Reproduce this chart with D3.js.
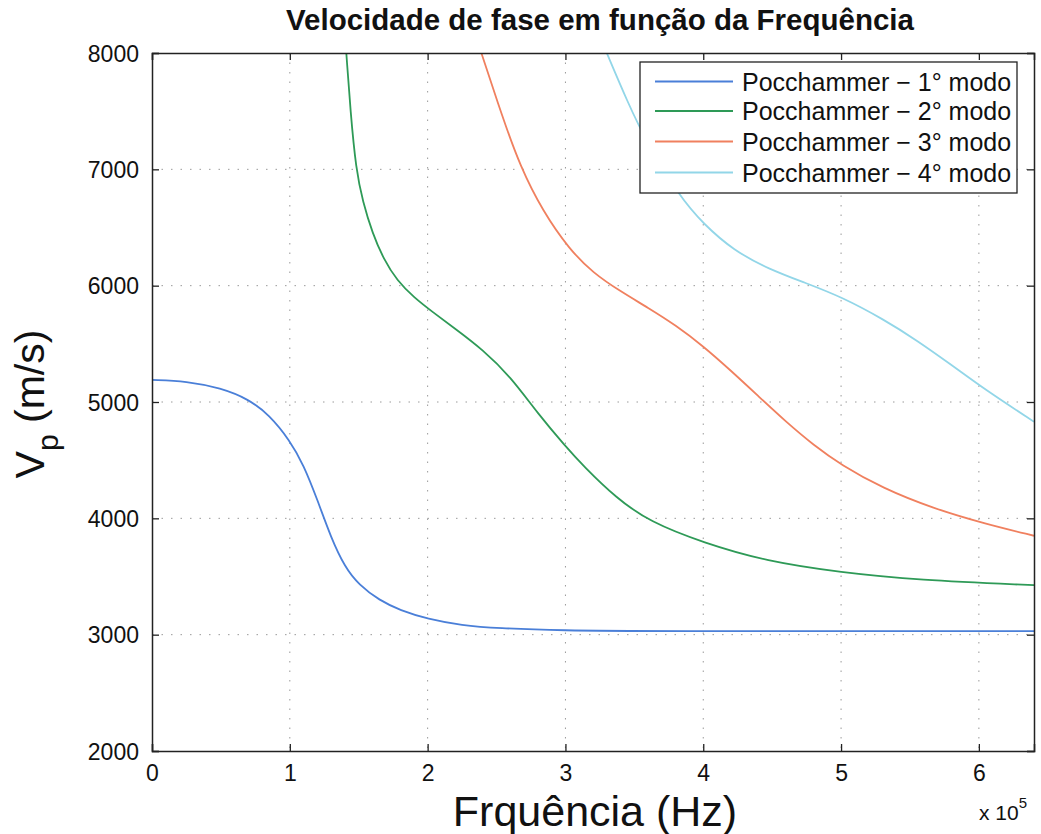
<!DOCTYPE html>
<html>
<head>
<meta charset="utf-8">
<script src="https://cdn.jsdelivr.net/npm/d3@7"></script>
<style>
  body { margin: 0; background: #fff; }
  svg { display: block; font-family: "Liberation Sans", Arial, sans-serif; }
</style>
</head>
<body>
<svg id="chart" width="1041" height="834"></svg>
<script>
// frequency in units of 1e5 Hz, phase velocity in m/s
const mode1X = [0, 0.25, 0.5, 0.7, 0.85, 1.0, 1.1, 1.2, 1.3, 1.4, 1.5, 1.65, 1.8, 2.0, 2.25, 2.5, 3.0, 3.5, 6.4];
const mode1Y = [5190, 5180, 5120, 5025, 4890, 4670, 4460, 4160, 3830, 3580, 3430, 3295, 3210, 3135, 3080, 3055, 3036, 3030, 3030];

const mode2X = [1.41, 1.44, 1.48, 1.53, 1.60, 1.68, 1.78, 1.90, 2.04, 2.2, 2.4, 2.6, 2.8, 3.0, 3.13, 3.37, 3.61, 4.0, 4.46, 5.0, 5.55, 6.4];
const mode2Y = [8000, 7500, 7000, 6720, 6450, 6230, 6040, 5900, 5770, 5630, 5450, 5220, 4900, 4620, 4450, 4173, 3971, 3790, 3630, 3535, 3470, 3425];

const mode3X = [2.39, 2.545, 2.67, 2.835, 3.03, 3.2, 3.4, 3.6, 3.8, 4.0, 4.2, 4.4, 4.6, 4.8, 5.0, 5.3, 5.67, 6.04, 6.4];
const mode3Y = [8000, 7443, 7030, 6640, 6310, 6110, 5950, 5810, 5660, 5480, 5270, 5050, 4830, 4630, 4460, 4260, 4085, 3955, 3850];

const mode4X = [3.30, 3.45, 3.59, 3.83, 4.0, 4.22, 4.48, 4.75, 5.0, 5.31, 5.55, 5.80, 6.04, 6.4];
const mode4Y = [8000, 7580, 7230, 6763, 6532, 6302, 6140, 6020, 5905, 5710, 5530, 5320, 5110, 4830];

const seriesNames = ["Pocchammer \u2212 1\u00b0 modo", "Pocchammer \u2212 2\u00b0 modo", "Pocchammer \u2212 3\u00b0 modo", "Pocchammer \u2212 4\u00b0 modo"];
const seriesColors = ["#4a7fd8", "#2e9a57", "#f0805f", "#92d6e8"];

const xTicks = [0, 1, 2, 3, 4, 5, 6];
const yTicks = [2000, 3000, 4000, 5000, 6000, 7000, 8000];

const titleText = "Velocidade de fase em fun\u00e7\u00e3o da Frequ\u00eancia";
const xLabelText = "Frqu\u00eancia (Hz)";

const series = [
  { name: seriesNames[0], color: seriesColors[0], xs: mode1X, ys: mode1Y },
  { name: seriesNames[1], color: seriesColors[1], xs: mode2X, ys: mode2Y },
  { name: seriesNames[2], color: seriesColors[2], xs: mode3X, ys: mode3Y },
  { name: seriesNames[3], color: seriesColors[3], xs: mode4X, ys: mode4Y }
];

const svg = d3.select("#chart");
const L = 152, R = 1034, T = 53, B = 751;

const x = d3.scaleLinear().domain([0, 6.4]).range([L, R]);
const y = d3.scaleLinear().domain([2000, 8000]).range([B, T]);

// grid
const grid = svg.append("g");
xTicks.filter(t => t > 0).forEach(t => {
  grid.append("line").attr("x1", x(t)).attr("x2", x(t)).attr("y1", T).attr("y2", B)
    .attr("stroke", "#9a9a9a").attr("stroke-width", 1).attr("stroke-dasharray", "1.5,8");
});
yTicks.filter(t => t > 2000 && t < 8000).forEach(t => {
  grid.append("line").attr("x1", L).attr("x2", R).attr("y1", y(t)).attr("y2", y(t))
    .attr("stroke", "#9a9a9a").attr("stroke-width", 1).attr("stroke-dasharray", "1.5,8");
});

// curves
svg.append("clipPath").attr("id", "clip").append("rect")
  .attr("x", L).attr("y", T).attr("width", R - L).attr("height", B - T);

const line = d3.line().x(d => x(d[0])).y(d => y(d[1])).curve(d3.curveBasis);
const curves = svg.append("g").attr("clip-path", "url(#clip)");
series.forEach(s => {
  const pts = s.xs.map((v, i) => [v, s.ys[i]]);
  curves.append("path").datum(pts).attr("d", line)
    .attr("fill", "none").attr("stroke", s.color).attr("stroke-width", 1.8);
});

// axes (MATLAB-like box with inward ticks)
const tickLen = 7;
const axB = svg.append("g").attr("transform", `translate(0,${B})`)
  .call(d3.axisBottom(x).tickValues(xTicks).tickSize(-tickLen).tickPadding(14).tickFormat(d3.format("d")));
const axT = svg.append("g").attr("transform", `translate(0,${T})`)
  .call(d3.axisTop(x).tickValues(xTicks).tickSize(-tickLen).tickFormat(""));
const axL = svg.append("g").attr("transform", `translate(${L},0)`)
  .call(d3.axisLeft(y).tickValues(yTicks).tickSize(-tickLen).tickPadding(13).tickFormat(d3.format("d")));
const axR = svg.append("g").attr("transform", `translate(${R},0)`)
  .call(d3.axisRight(y).tickValues(yTicks).tickSize(-tickLen).tickFormat(""));
[axB, axT, axL, axR].forEach(a => {
  a.select(".domain").attr("stroke", "#222").attr("stroke-width", 1.5);
  a.selectAll(".tick line").attr("stroke", "#222").attr("stroke-width", 1.3);
  a.selectAll(".tick text").attr("fill", "#111").style("font-size", "23px")
    .style("font-family", "'Liberation Sans', Arial, sans-serif");
});
axB.selectAll(".tick text").attr("dy", "0.71em");
axL.selectAll(".tick text").attr("dy", "0.36em");

// title
svg.append("text").attr("x", 600).attr("y", 30).attr("text-anchor", "middle")
  .style("font-size", "29.5px").style("font-weight", "bold").attr("fill", "#111").text(titleText);

// x label
svg.append("text").attr("x", 595).attr("y", 826).attr("text-anchor", "middle")
  .style("font-size", "43px").attr("fill", "#111").text(xLabelText);

// exponent
const ex = svg.append("text").attr("x", 979).attr("y", 820).style("font-size", "21px").attr("fill", "#111");
ex.append("tspan").text("x 10");
ex.append("tspan").attr("dy", -12).style("font-size", "15px").text("5");

// y label
const yl = svg.append("text").attr("transform", "translate(44,404) rotate(-90)")
  .attr("text-anchor", "middle").style("font-size", "41px").attr("fill", "#111");
yl.append("tspan").text("V");
yl.append("tspan").attr("dy", 14).style("font-size", "30px").text("p");
yl.append("tspan").attr("dy", -14).text(" (m/s)");

// legend
const lg = svg.append("g");
lg.append("rect").attr("x", 640).attr("y", 62).attr("width", 377).attr("height", 131)
  .attr("fill", "#fff").attr("stroke", "#222").attr("stroke-width", 1.3);
const rowY = [81.5, 111, 141.5, 172.5];
series.forEach((s, i) => {
  lg.append("line").attr("x1", 655).attr("x2", 733).attr("y1", rowY[i]).attr("y2", rowY[i])
    .attr("stroke", s.color).attr("stroke-width", 2);
  lg.append("text").attr("x", 742).attr("y", rowY[i]).attr("dy", "0.36em")
    .style("font-size", "25px").attr("fill", "#111").text(s.name);
});
</script>
</body>
</html>
